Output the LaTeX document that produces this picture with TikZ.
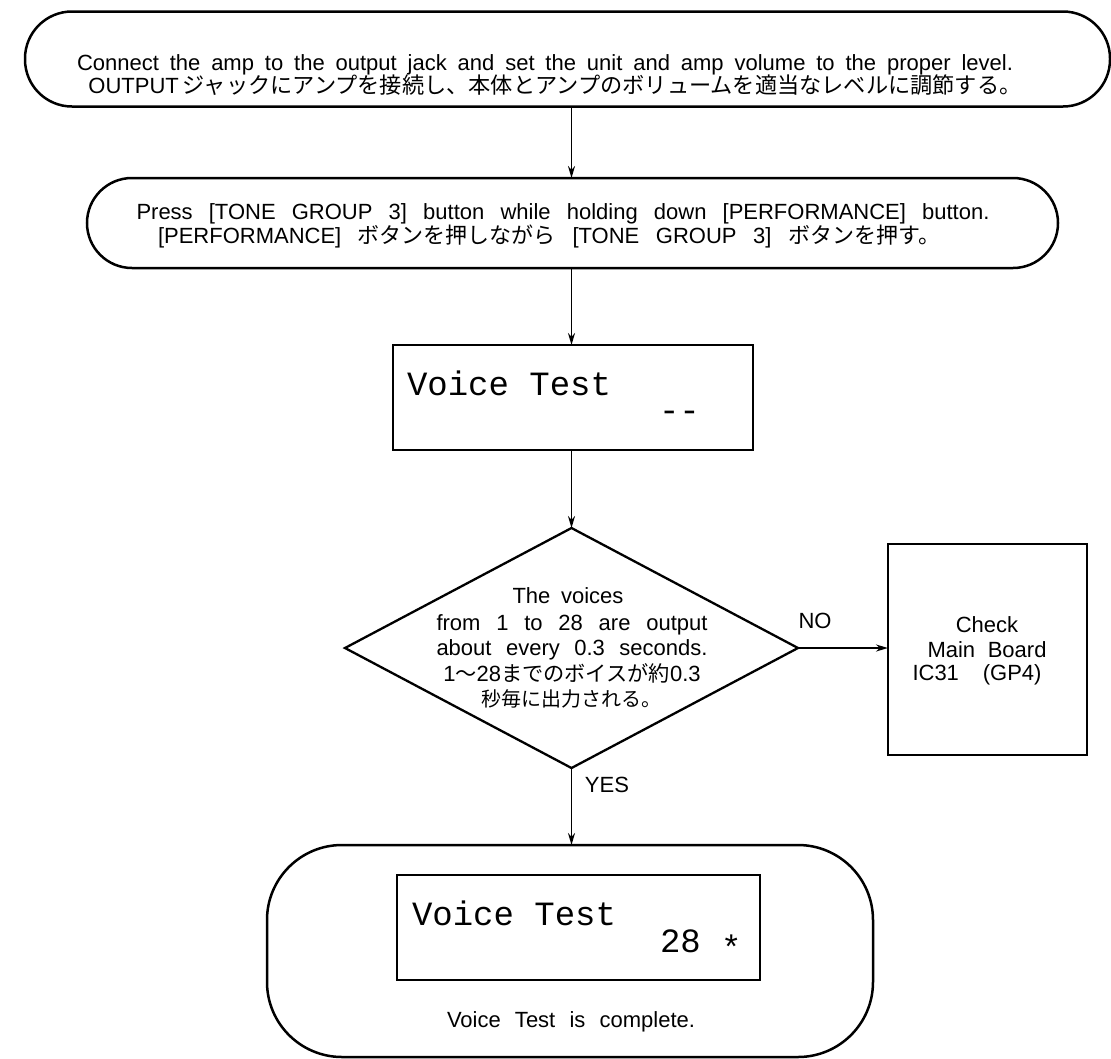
\documentclass[tikz,border=0pt]{standalone}
\usepackage{fontspec}
\setmainfont{Liberation Sans}
\newfontfamily\jp{Noto Sans CJK JP}
\newfontfamily\lcd{Liberation Mono}
\usetikzlibrary{shapes.geometric,arrows.meta}
\begin{document}
\begin{tikzpicture}[x=1pt,y=-1pt,
  every node/.style={inner sep=0pt, outer sep=0pt},
  term/.style={draw, line width=2.5pt, rectangle},
  procbox/.style={draw, line width=2.3pt, rectangle},
  decision/.style={draw, line width=2.3pt, diamond},
  arr/.style={line width=1.9pt, -{Stealth[length=12pt,width=7pt]}},
  lbl/.style={font=\fontsize{22}{26}\selectfont, anchor=base},
  jlbl/.style={font=\fontsize{21.2}{26}\selectfont, anchor=base},
  lcdtxt/.style={font=\fontsize{34}{40}\selectfont\lcd, anchor=base west},
]
\useasboundingbox (0,0) rectangle (1111,1058);

% start terminal
\node[term, minimum width=1085, minimum height=95, rounded corners=47] (start) at (567.5,59) {};
\node[lbl] (start1) at (545,70) {\makebox[936pt][s]{Connect the amp to the output jack and set the unit and amp volume to the proper level.}};
\node[lbl] (start2) at (555,93) {OUTPUT\hspace{4pt}{\jp\fontsize{22.2}{26}\selectfont ジャックにアンプを接続し、本体とアンプのボリュームを適当なレベルに調節する。}};

% key press step
\node[term, minimum width=971, minimum height=90, rounded corners=45] (press) at (572.5,223) {};
\node[lbl] (press1) at (563,219) {\makebox[853pt][s]{Press [TONE GROUP 3] button while holding down [PERFORMANCE] button.}};
\node[lbl] (press2) at (549,243) {\makebox[782pt][s]{[PERFORMANCE] {\jp ボタンを押しながら} [TONE GROUP 3] {\jp ボタンを押す。}}};

% display while testing
\node[procbox, minimum width=360, minimum height=105] (lcd1) at (573,397.5) {};
\node[lcdtxt] (lcd1a) at (407,395) {Voice Test};
\node[lcdtxt] (lcd1b) at (659,421) {{-}{-}};

% decision
\node[decision, minimum width=453, minimum height=240] (dia) at (571.5,648) {};
\node[lbl] (dia1) at (568,603) {\makebox[111pt][s]{The voices}};
\node[lbl] (dia2) at (572,630) {\makebox[271pt][s]{from 1 to 28 are output}};
\node[lbl] (dia3) at (572,655) {\makebox[271pt][s]{about every 0.3 seconds.}};
\node[jlbl] (dia4) at (572,681) {{\fontsize{22}{26}\selectfont 1}{\jp ～}{\fontsize{22}{26}\selectfont 28}{\jp までのボイスが約}{\fontsize{22}{26}\selectfont 0.3}};
\node[jlbl] (dia5) at (571,706) {\jp\fontsize{20}{26}\selectfont 秒毎に出力される。};

% failure branch
\node[procbox, minimum width=199, minimum height=211] (check) at (987.5,649.5) {};
\node[lbl] (check1) at (987,632) {Check};
\node[lbl] (check2) at (987,657) {\makebox[119pt][s]{Main Board}};
\node[lbl] (check3) at (977,680) {\makebox[129pt][s]{IC31 (GP4)}};

% end terminal
\node[term, minimum width=606, minimum height=212, rounded corners=75] (finish) at (570,951) {};
\node[procbox, minimum width=363, minimum height=105] (lcd2) at (578.5,927.5) {};
\node[lcdtxt] (lcd2a) at (412,925) {Voice Test};
\node[lcdtxt] (lcd2b) at (660,952) {28 \raisebox{-7pt}{*}};
\node[lbl] (done) at (571,1027) {\makebox[248pt][s]{Voice Test is complete.}};

% connectors
\draw[arr] (start.south -| dia.north) -- (press.north -| dia.north);
\draw[arr] (press.south -| dia.north) -- (lcd1.north -| dia.north);
\draw[arr] (lcd1.south -| dia.north) -- (dia.north);
\draw[arr] (dia.east) -- (dia.east -| check.west);
\draw[arr] (dia.south) -- (finish.north -| dia.south);

% branch labels
\node[lbl] (no) at (815,628) {NO};
\node[lbl] (yes) at (607,792) {YES};
\end{tikzpicture}
\end{document}
